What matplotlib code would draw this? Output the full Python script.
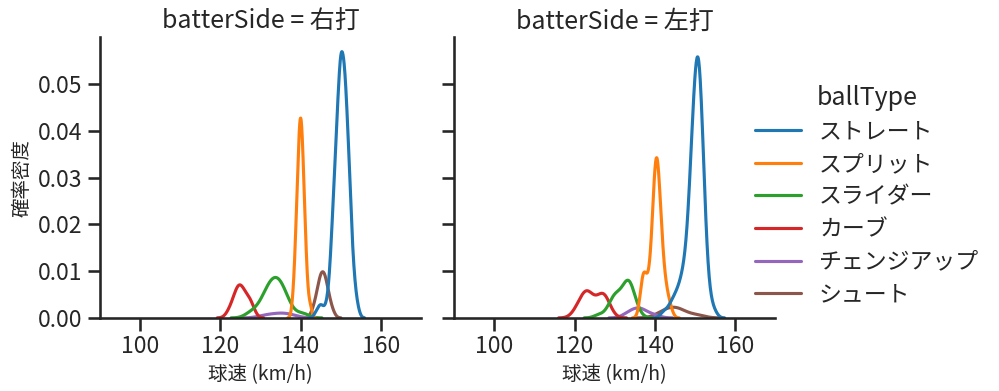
#!/usr/bin/env python3

import numpy as np
import pandas as pd
import matplotlib
matplotlib.use("Agg")
import matplotlib.pyplot as plt
import seaborn as sns


# -----------------------------------------------------------------------------
# 球速の分布 (KDE) を打者の左右別に描く
# 各球種は (球速 km/h, 球数) の組で持つ
# -----------------------------------------------------------------------------

BALL_TYPES = ["ストレート", "スプリット", "スライダー", "カーブ", "チェンジアップ", "シュート"]
SIDES = ["右打", "左打"]
Y_TICKS = [0.00, 0.01, 0.02, 0.03, 0.04, 0.05]

# 右打
R_STRAIGHT_KMH = [144, 145, 146, 147, 148, 149, 150, 151, 152, 153, 154]
R_STRAIGHT_N = [1, 2, 1, 3, 13, 24, 35, 32, 21, 7, 2]
R_SPLIT_KMH = [138.0, 138.5, 139.0, 139.5, 140.0, 140.5, 141.0, 141.5, 142.0, 142.5]
R_SPLIT_N = [1, 3, 7, 11, 14, 11, 7, 3, 1, 1]
R_SLIDER_KMH = [127, 128, 129, 130, 131, 132, 133, 134, 135, 136, 137, 138, 140, 141]
R_SLIDER_N = [1, 1, 1, 2, 3, 5, 5, 6, 5, 4, 2, 1, 1, 1]
R_CURVE_KMH = [122, 123, 124, 125, 126, 127, 128]
R_CURVE_N = [1, 2, 4, 5, 3, 3, 2]
R_CHANGE_KMH = [131, 133, 135, 136, 138]
R_CHANGE_N = [1, 1, 1, 1, 1]
R_SHOOT_KMH = [143, 144, 145, 146, 147, 148]
R_SHOOT_N = [1, 3, 6, 6, 3, 1]

# 左打
L_STRAIGHT_KMH = [142, 143, 144, 145, 146, 147, 148, 149, 150, 151, 152, 153, 154, 155]
L_STRAIGHT_N = [1, 1, 2, 3, 4, 6, 9, 20, 32, 37, 22, 6, 2, 1]
L_SPLIT_KMH = [136.5, 137.0, 137.5, 138.0, 138.5, 139.0, 139.5, 140.0,
               140.5, 141.0, 141.5, 142.0, 142.5, 143.0, 143.5, 144.0]
L_SPLIT_N = [1, 5, 3, 2, 2, 3, 6, 11, 14, 9, 6, 4, 2, 2, 1, 1]
L_SLIDER_KMH = [126, 128, 129, 130, 131, 132, 133, 134, 135, 136]
L_SLIDER_N = [1, 1, 2, 4, 3, 3, 6, 6, 2, 1]
L_CURVE_KMH = [120, 121, 122, 123, 124, 125, 126, 127, 128, 129]
L_CURVE_N = [1, 2, 3, 5, 3, 2, 2, 5, 3, 1]
L_CHANGE_KMH = [133, 134, 135, 136, 137, 138, 140]
L_CHANGE_N = [1, 1, 1, 2, 1, 1, 1]
L_SHOOT_KMH = [141, 142, 143, 144, 145, 146, 147, 149, 151]
L_SHOOT_N = [1, 1, 1, 2, 1, 2, 1, 1, 1]


def build_frame():
    groups = {
        "右打": [(R_STRAIGHT_KMH, R_STRAIGHT_N), (R_SPLIT_KMH, R_SPLIT_N),
                (R_SLIDER_KMH, R_SLIDER_N), (R_CURVE_KMH, R_CURVE_N),
                (R_CHANGE_KMH, R_CHANGE_N), (R_SHOOT_KMH, R_SHOOT_N)],
        "左打": [(L_STRAIGHT_KMH, L_STRAIGHT_N), (L_SPLIT_KMH, L_SPLIT_N),
                (L_SLIDER_KMH, L_SLIDER_N), (L_CURVE_KMH, L_CURVE_N),
                (L_CHANGE_KMH, L_CHANGE_N), (L_SHOOT_KMH, L_SHOOT_N)],
    }
    rows = []
    for side in SIDES:
        for ball, (kmh, n) in zip(BALL_TYPES, groups[side]):
            for v in np.repeat(kmh, n):
                rows.append({"batterSide": side, "ballType": ball, "球速": float(v)})
    return pd.DataFrame(rows)


def main():
    df = build_frame()

    sns.set_theme(context="talk", style="ticks", palette="tab10")
    plt.rcParams["font.family"] = ["Noto Sans CJK JP", "DejaVu Sans"]

    g = sns.displot(
        data=df, x="球速", hue="ballType", col="batterSide",
        kind="kde", hue_order=BALL_TYPES, col_order=SIDES,
        height=4, aspect=1.0,
    )

    g.figure.set_size_inches(9.99, 3.91)
    g.figure.subplots_adjust(left=0.100, right=0.776, bottom=0.187, top=0.905, wspace=0.103)
    g.set_titles("batterSide = {col_name}")
    g.set(xlim=(90, 170), ylim=(0, 0.0601), yticks=Y_TICKS)
    g.set_xlabels("球速 (km/h)", fontsize=14)
    g.set_ylabels("確率密度", fontsize=14)
    g.axes[0, 1].set_ylabel("")

    sns.move_legend(g, "center left", bbox_to_anchor=(0.735, 0.5),
                    frameon=False, labelspacing=0.42)

    g.figure.savefig("out.png", dpi=100)
    plt.close(g.figure)


if __name__ == "__main__":
    main()
